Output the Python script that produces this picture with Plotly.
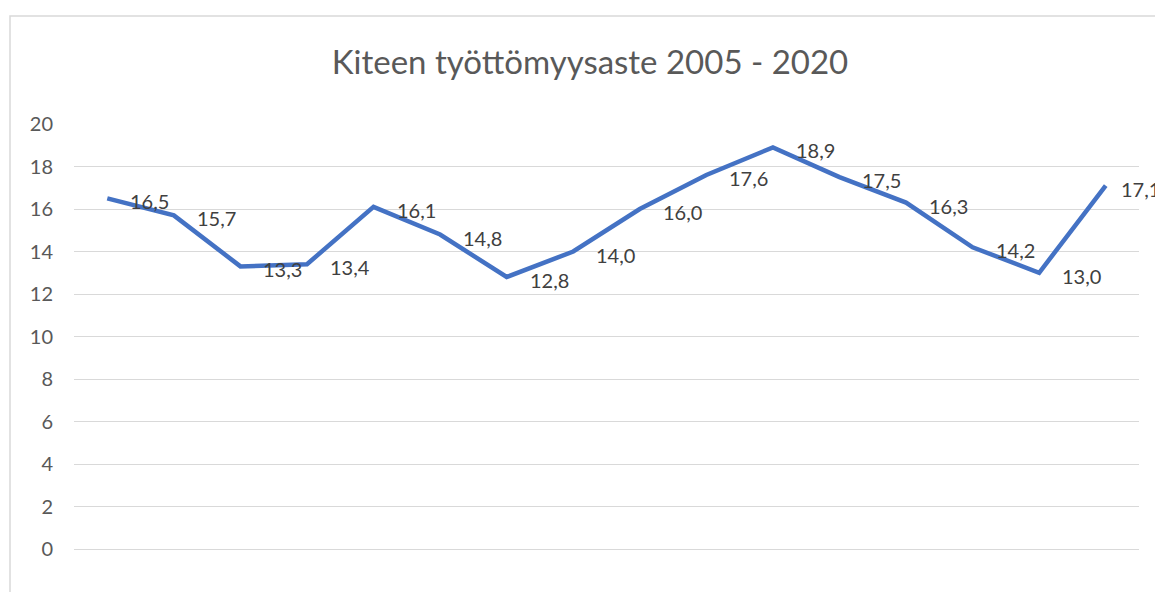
import plotly.graph_objects as go

years = [str(y) for y in range(2005, 2021)]
rates = [16.5, 15.7, 13.3, 13.4, 16.1, 14.8, 12.8, 14.0, 16.0, 17.6, 18.9, 17.5, 16.3, 14.2, 13.0, 17.1]
y_ticks = list(range(0, 21, 2))

FONT = "Lato"

fig = go.Figure()
fig.add_trace(go.Scatter(
    x=years, y=rates, mode="lines",
    line=dict(color="#4472C4", width=4.5),
    hoverinfo="skip",
))

# category axis: annotations positioned by category index
# (the last label is pulled closer to its point, as the reference does at the chart edge)
annotations = [
    dict(x=i, y=v, xref="x", yref="y", text=f"{v:.1f}".replace(".", ","),
         showarrow=False, xanchor="left", yanchor="middle",
         xshift=13 if i == len(rates) - 1 else 21, yshift=-3,
         font=dict(family=FONT, size=20, color="#404040"))
    for i, v in enumerate(rates)
]

fig.update_layout(
    width=1155, height=592,
    margin=dict(l=74, r=16, t=124, b=43),
    paper_bgcolor="white", plot_bgcolor="white",
    showlegend=False,
    title=dict(text="Kiteen työttömyysaste 2005 - 2020", x=590 / 1155, xanchor="center",
               y=1 - 62 / 592, yanchor="middle",
               font=dict(family=FONT, size=33, color="#595959")),
    xaxis=dict(type="category", categoryarray=years, range=[-0.5, len(years) - 0.5],
               showticklabels=False, showgrid=False, showline=False,
               zeroline=False, ticks=""),
    yaxis=dict(range=[0, 20], tickvals=y_ticks, showgrid=True, gridcolor="#d9d9d9",
               gridwidth=1.3, zeroline=True, zerolinecolor="#d9d9d9", zerolinewidth=1.3,
               showline=False, ticks="", ticklabelstandoff=20,
               tickfont=dict(family=FONT, size=20, color="#595959")),
    annotations=annotations,
    shapes=[dict(type="rect", xref="paper", yref="paper",
                 x0=(10 - 74) / 1065, x1=1.2, y0=-0.3, y1=(549 - 16) / 425,
                 line=dict(color="#d9d9d9", width=1.5), fillcolor="rgba(0,0,0,0)",
                 layer="below")],
)

fig.write_html(
    "out.html",
    config={"displayModeBar": False},
    post_script="document.body.style.margin='0';document.body.style.overflow='hidden';"
                "document.documentElement.style.overflow='hidden';",
)
